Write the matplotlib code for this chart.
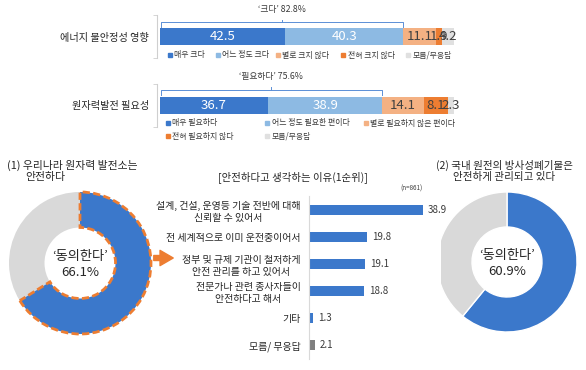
import matplotlib
matplotlib.use('Agg')
import matplotlib.pyplot as plt
from matplotlib.patches import Rectangle, FancyArrowPatch

plt.rcParams['font.family'] = ['Noto Sans CJK KR', 'DejaVu Sans']

W, H = 586, 370

# top stacked bars
energy_name = '에너지 불안정성 영향'
energy_labels = ['매우 크다', '어느 정도 크다', '별로 크지 않다', '전혀 크지 않다', '모름/무응답']
energy_vals = [42.5, 40.3, 11.1, 1.9, 4.2]

need_name = '원자력발전 필요성'
need_labels = ['매우 필요하다', '어느 정도 필요한 편이다', '별로 필요하지 않은 편이다',
               '전혀 필요하지 않다', '모름/무응답']
need_vals = [36.7, 38.9, 14.1, 8.1, 2.3]

# donuts
safe_pie = [66.1, 33.9]
waste_pie = [60.9, 39.1]

# reasons (1st rank)
reasons = ['설계, 건설, 운영등 기술 전반에 대해\n신뢰할 수 있어서',
           '전 세계적으로 이미 운전중이어서',
           '정부 및 규제 기관이 철저하게\n안전 관리를 하고 있어서',
           '전문가나 관련 종사자들이\n안전하다고 해서',
           '기타',
           '모름/ 무응답']
reason_vals = [38.9, 19.8, 19.1, 18.8, 1.3, 2.1]

BLUE = '#3b78cb'
stack_colors = [BLUE, '#8dbae3', '#f4b183', '#ed7d31', '#e0e0e0']
text_colors = ['white', 'white', '#404040', '#404040', '#404040']
ORANGE = '#ed7d31'
GREY = '#d9d9d9'
TXT = '#3a3a3a'
DARK = '#262626'

fig = plt.figure(figsize=(W / 100, H / 100), dpi=100)


def px_axes(x0, y0, x1, y1):
    return fig.add_axes([x0 / W, 1 - y1 / H, (x1 - x0) / W, (y1 - y0) / H])


def legend_item(x, y, label, color):
    fig.add_artist(Rectangle(((x - 2) / W, 1 - (y + 2) / H), 4 / W, 4 / H,
                             transform=fig.transFigure, color=color))
    fig.text((x + 4.5) / W, 1 - y / H, label, fontsize=5.7, va='center', color=TXT)


def stacked(top, bottom, name, vals, tag, line_y, label_y):
    ax = px_axes(160, top, 454, bottom)
    ym = (bottom - top) / 16 / 2  # bar of 16 px height
    left = 0
    for v, c, tc in zip(vals, stack_colors, text_colors):
        ax.barh(0, v, left=left, height=1, color=c)
        ax.text(left + v / 2, 0, f'{v:.1f}', ha='center', va='center',
                color=tc, fontsize=9.5)
        left += v
    ax.set_xlim(0, 100)
    ax.set_ylim(-ym, ym)
    for s in ['top', 'right', 'bottom']:
        ax.spines[s].set_visible(False)
    ax.spines['left'].set_color('#cfcfcf')
    ax.spines['left'].set_position(('outward', 2))
    ax.set_xticks([])
    ax.set_yticks([0])
    ax.set_yticklabels([name], fontsize=7.3, color=DARK)
    ax.set_yticks([-ym, ym], minor=True)
    ax.tick_params(axis='y', which='major', length=0, pad=6)
    ax.tick_params(axis='y', which='minor', length=3, color='#cfcfcf')

    def py(p):
        return ym - (p - top) * 2 * ym / (bottom - top)

    s = vals[0] + vals[1]
    bc = '#5b8fd6'
    ax.plot([0.3, 0.3, s, s], [py(line_y + 4.5), py(line_y), py(line_y), py(line_y + 4.5)],
            color=bc, lw=0.7, clip_on=False)
    ax.plot([s / 2, s / 2], [py(line_y), py(line_y - 2.5)], color=bc, lw=0.7, clip_on=False)
    ax.text(s / 2, py(label_y), f'‘{tag}’ {s:.1f}%', ha='center', va='center',
            fontsize=6.3, color=TXT, clip_on=False)
    return ax


stacked(15, 58, energy_name, energy_vals, '크다', 22.5, 10)
for lab, col, x in zip(energy_labels, stack_colors, [170, 218, 278, 343, 408]):
    legend_item(x, 55, lab, col)

stacked(84, 127, need_name, need_vals, '필요하다', 90, 77)
leg2_pos = [(168, 123), (267, 123), (366, 123), (168, 136), (267, 136)]
for lab, col, (x, y) in zip(need_labels, stack_colors, leg2_pos):
    legend_item(x, y, lab, col)


def donut(cx, cy, r, vals, dashed):
    h = r * 1.1
    ax = px_axes(cx - h, cy - h, cx + h, cy + h)
    wp = dict(width=0.5)
    if not dashed:
        wp.update(edgecolor='white', linewidth=1)
    wedges, _ = ax.pie(vals, colors=[BLUE, GREY], startangle=90, counterclock=False,
                       radius=1, wedgeprops=wp)
    if dashed:
        wedges[0].set_edgecolor(ORANGE)
        wedges[0].set_linewidth(2.0)
        wedges[0].set_linestyle((0, (2.6, 1.2)))
        wedges[0].set_zorder(3)
    ax.set_xlim(-1.1, 1.1)
    ax.set_ylim(-1.1, 1.1)
    ax.text(0, 0.09, '‘동의한다’', ha='center', va='center', fontsize=9.5, color=DARK)
    ax.text(0, -0.13, f'{vals[0]}%', ha='center', va='center', fontsize=9.5, color=DARK)
    return ax


donut(80, 263, 71, safe_pie, True)
donut(507, 262, 70, waste_pie, False)

fig.text(7 / W, 1 - 165 / H, '(1) 우리나라 원자력 발전소는', fontsize=7.8,
         va='center', color=DARK)
fig.text(25 / W, 1 - 177 / H, '안전하다', fontsize=7.8, va='center', color=DARK)
fig.text(504 / W, 1 - 171 / H, '(2) 국내 원전의 방사성폐기물은\n안전하게 관리되고 있다',
         fontsize=7.6, ha='center', va='center', linespacing=1.15, color=DARK)

# arrow between donut and reasons
fig.add_artist(FancyArrowPatch((151 / W, 1 - 258 / H), (176 / W, 1 - 258 / H),
                               transform=fig.transFigure, color=ORANGE,
                               arrowstyle='simple,head_length=0.95,head_width=1.1,tail_width=0.36',
                               mutation_scale=10))

# reasons bar chart
ax = px_axes(309, 196.5, 441, 358.5)
ax.barh(range(len(reasons)), reason_vals, height=0.34,
        color=[BLUE] * (len(reasons) - 1) + ['#7f7f7f'])
for i, v in enumerate(reason_vals):
    ax.text(v + 1.7, i, f'{v}', va='center', fontsize=7, color=TXT)
ax.set_xlim(0, 45)
ax.set_ylim(5.5, -0.5)
for s in ['top', 'right', 'bottom']:
    ax.spines[s].set_visible(False)
ax.spines['left'].set_color('#d9d9d9')
ax.set_xticks([])
ax.set_yticks(range(len(reasons)))
ax.set_yticklabels(reasons, fontsize=7.2, color=DARK, linespacing=1.2)
for lbl in ax.get_yticklabels():
    lbl.set_multialignment('center')
ax.tick_params(axis='y', length=0, pad=6)

fig.text(293 / W, 1 - 177 / H, '[안전하다고 생각하는 이유(1순위)]', fontsize=7.5,
         ha='center', va='center', color=DARK)
fig.text(423 / W, 1 - 189 / H, '(n=861)', fontsize=4.5, ha='right', va='center', color=TXT)

fig.savefig('out.png', dpi=100)
